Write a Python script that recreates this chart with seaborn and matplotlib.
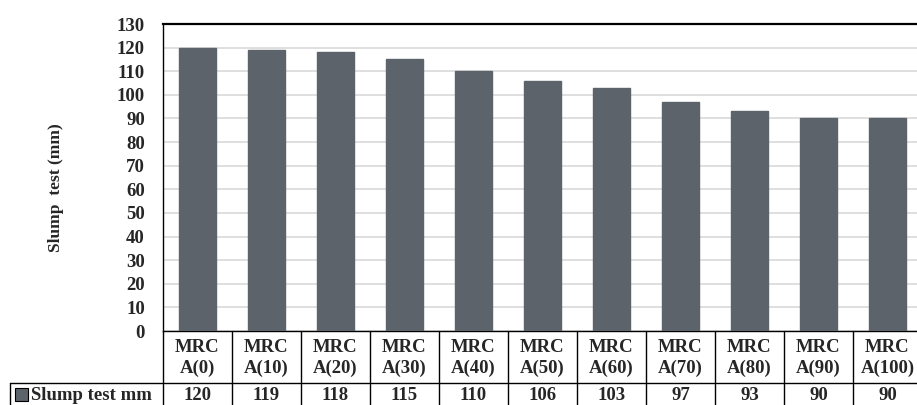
import matplotlib
matplotlib.use("Agg")
import matplotlib.pyplot as plt
import seaborn as sns
import pandas as pd
from matplotlib.patches import Rectangle
from matplotlib.lines import Line2D

mixes = ["MRC\nA(0)", "MRC\nA(10)", "MRC\nA(20)", "MRC\nA(30)", "MRC\nA(40)",
         "MRC\nA(50)", "MRC\nA(60)", "MRC\nA(70)", "MRC\nA(80)", "MRC\nA(90)",
         "MRC\nA(100)"]
slump = [120, 119, 118, 115, 110, 106, 103, 97, 93, 90, 90]
series_name = "Slump test mm"
y_label = "Slump  test (mm)"
y_ticks = list(range(0, 131, 10))

sns.set_theme(style="white")
plt.rcParams["font.family"] = ["Liberation Serif", "DejaVu Serif"]
plt.rcParams["font.weight"] = "bold"

W, H = 917, 405
fig = plt.figure(figsize=(W / 100, H / 100), dpi=100)
ax_left, ax_top, ax_bottom, ax_right = 163, 24, 331, 922
ax = fig.add_axes([ax_left / W, (H - ax_bottom) / H,
                   (ax_right - ax_left) / W, (ax_bottom - ax_top) / H])

df = pd.DataFrame({"mix": mixes, "slump": slump})
bar_color = "#5d636a"
sns.barplot(data=df, x="mix", y="slump", color=bar_color, width=0.54,
            saturation=1, ax=ax, zorder=3, edgecolor=bar_color)

ax.set_ylim(0, 130)
ax.set_xlim(-0.5, len(mixes) - 0.5)
ax.set_yticks(y_ticks)
ax.set_yticklabels([str(t) for t in y_ticks], fontsize=13.5, fontweight="bold")
ax.tick_params(axis="y", length=0, pad=13)
ax.set_xticks([])
ax.set_xlabel("")


def ay(py):
    return (ax_bottom - py) / (ax_bottom - ax_top)


ax.set_ylabel(y_label, fontsize=12.5, fontweight="bold")
ax.yaxis.set_label_coords((64 - ax_left) / (ax_right - ax_left), ay(188))
ax.grid(axis="y", color="#d9d9d9", linewidth=1.2, zorder=0)
for side in ["left", "top", "bottom"]:
    ax.spines[side].set_color("black")
ax.spines["left"].set_linewidth(1.0)
ax.spines["bottom"].set_linewidth(1.0)
ax.spines["top"].set_linewidth(1.6)
ax.spines["right"].set_visible(False)

# data table under the bars
trans = ax.get_xaxis_transform()
row_split = 383
fig_bottom = 406
for i, (lab, val) in enumerate(zip(mixes, slump)):
    ax.text(i, ay((ax_bottom + row_split) / 2 + 1), lab, transform=trans,
            ha="center", va="center", fontsize=13.5, fontweight="bold",
            linespacing=1.25, clip_on=False)
    ax.text(i, ay((row_split + fig_bottom) / 2 + 1), str(val), transform=trans,
            ha="center", va="center", fontsize=13.5, fontweight="bold",
            clip_on=False)
for b in range(len(mixes) + 1):
    ax.add_line(Line2D([b - 0.5, b - 0.5], [ay(ax_bottom), ay(fig_bottom)],
                       transform=trans, color="black", linewidth=1.0,
                       clip_on=False))
ax.add_line(Line2D([-0.5, len(mixes) - 0.5], [ay(row_split), ay(row_split)],
                   transform=trans, color="black", linewidth=1.0, clip_on=False))

# legend cell of the table
fig.add_artist(Line2D([10 / W, ax_left / W], [(H - row_split) / H] * 2,
                      color="black", linewidth=1.0))
fig.add_artist(Line2D([10 / W, 10 / W], [(H - row_split) / H, 0],
                      color="black", linewidth=1.0))
fig.add_artist(Rectangle((15 / W, (H - 401) / H), 13 / W, 13 / H,
                         facecolor=bar_color, edgecolor="black", linewidth=0.8))
fig.text(31 / W, (H - 395) / H, series_name, ha="left", va="center",
         fontsize=13.5, fontweight="bold")

fig.savefig("out.png", dpi=100)
